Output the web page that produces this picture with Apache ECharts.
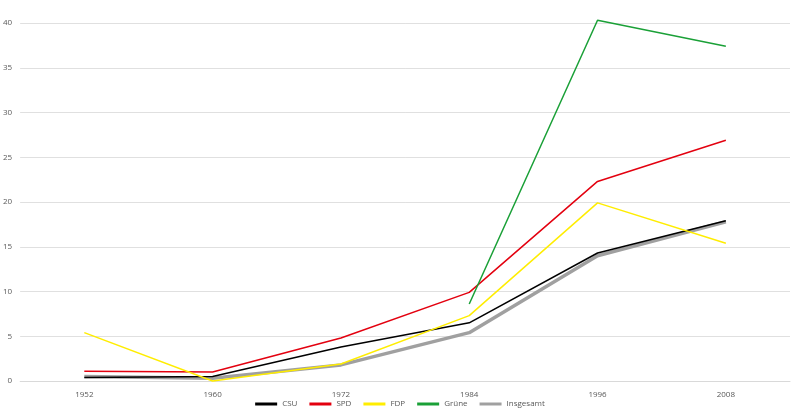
<!DOCTYPE html>
<html><head><meta charset="utf-8">
<script src="https://cdn.jsdelivr.net/npm/echarts@6/dist/echarts.min.js"></script>
<style>html,body{margin:0;padding:0;background:#fff}#c{width:800px;height:417px}</style>
</head><body><div id="c"></div>
<script>
const years = ['1952', '1960', '1972', '1984', '1996', '2008'];
const csu = [0.4, 0.5, 3.8, 6.5, 14.3, 17.9];
const spd = [1.1, 1.0, 4.8, 9.9, 22.3, 26.9];
const fdp = [5.4, 0.0, 1.9, 7.3, 19.9, 15.4];
const gruene = [null, null, null, 8.6, 40.3, 37.4];
const insgesamt = [0.5, 0.3, 1.8, 5.4, 14.0, 17.8];

const chart = echarts.init(document.getElementById('c'));
const mk = (name, data, color, width) => ({
  name, type: 'line', data, symbol: 'none', clip: false,
  lineStyle: {color, width}, itemStyle: {color}, z: name === 'Insgesamt' ? 1 : 2
});
chart.setOption({
  animation: false,
  textStyle: {fontFamily: 'Open Sans'},
  grid: {left: 19, right: 10, top: 23, bottom: 36},
  legend: {
    bottom: 4, itemWidth: 22, itemHeight: 3, itemGap: 12,
    icon: 'rect', textStyle: {fontSize: 8, color: '#595959'},
    data: ['CSU', 'SPD', 'FDP', 'Grüne', 'Insgesamt']
  },
  xAxis: {
    type: 'category', data: years, boundaryGap: true,
    axisLine: {lineStyle: {color: '#d9d9d9'}}, axisTick: {show: false},
    axisLabel: {fontSize: 8, color: '#595959', margin: 10}
  },
  yAxis: {
    type: 'value', min: 0, max: 40, interval: 5,
    axisLabel: {fontSize: 8, color: '#595959', margin: 8},
    splitLine: {lineStyle: {color: '#e0e0e0'}}
  },
  series: [
    mk('CSU', csu, '#000000', 1.5),
    mk('SPD', spd, '#e3000f', 1.5),
    mk('FDP', fdp, '#ffed00', 1.5),
    mk('Grüne', gruene, '#1aa037', 1.5),
    mk('Insgesamt', insgesamt, '#a0a0a0', 3.5)
  ]
});
</script></body></html>
